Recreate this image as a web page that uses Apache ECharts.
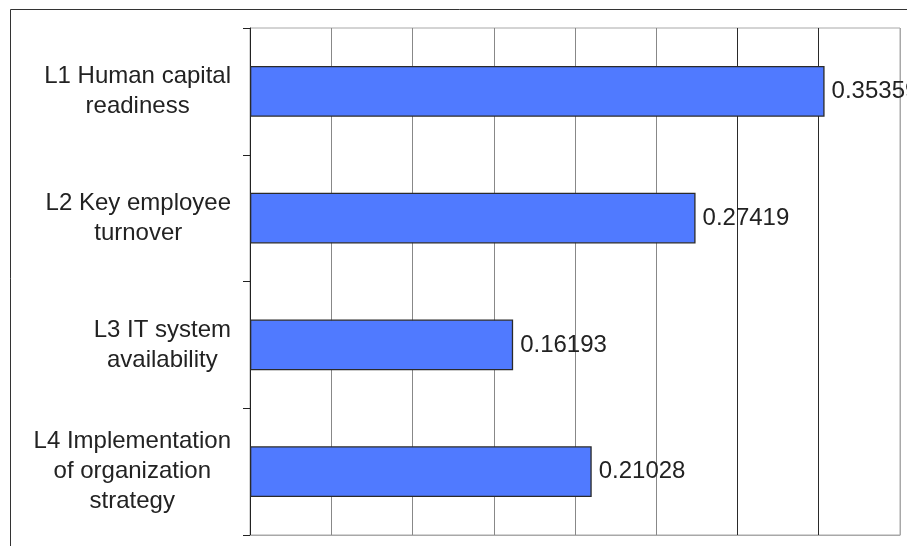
<!DOCTYPE html>
<html>
<head>
<meta charset="utf-8">
<script src="https://cdn.jsdelivr.net/npm/echarts@6/dist/echarts.min.js"></script>
<style>
html,body{margin:0;padding:0;background:#fff;}
#chart{width:907px;height:546px;}
</style>
</head>
<body>
<div id="chart"></div>
<script>
const categories = [
  'L1 Human capital\nreadiness',
  'L2 Key employee\nturnover',
  'L3 IT system\navailability',
  'L4 Implementation\nof organization\nstrategy'
];
const values = [0.35359, 0.27419, 0.16193, 0.21028];
const axisMin = 0;
const axisMax = 0.4;
const axisInterval = 0.05;

const FONT = '"Liberation Sans", Arial, sans-serif';
const chart = echarts.init(document.getElementById('chart'));
chart.setOption({
  animation: false,
  backgroundColor: '#ffffff',
  graphic: [{
    type: 'rect',
    shape: { x: 10.5, y: 9.5, width: 1200, height: 1200 },
    style: { fill: 'none', stroke: '#333', lineWidth: 1 },
    z: -10
  }],
  grid: {
    left: 250, right: 7, top: 28, bottom: 11,
    show: true, borderColor: '#a8a8a8', borderWidth: 1,
    containLabel: false
  },
  xAxis: {
    type: 'value',
    min: axisMin, max: axisMax, interval: axisInterval,
    axisLine: { show: true, lineStyle: { color: '#a8a8a8' } },
    axisTick: { show: false },
    axisLabel: { show: false },
    splitLine: {
      show: true,
      lineStyle: {
        color: ['#888','#888','#888','#888','#888','#888','#2a2a2a','#2a2a2a','#a8a8a8'],
        width: 1
      }
    }
  },
  yAxis: {
    type: 'category',
    data: categories,
    inverse: true,
    axisLine: { show: true, lineStyle: { color: '#222', width: 1 } },
    axisTick: { show: true, length: 7, alignWithLabel: false, lineStyle: { color: '#222' } },
    splitLine: { show: false },
    axisLabel: {
      margin: 19,
      formatter: function (v) {
        return v.split('\n').map(function (s) { return '{c|' + s + '}'; }).join('\n');
      },
      rich: {
        c: { align: 'center', fontSize: 24, lineHeight: 30, fontFamily: FONT, color: '#222' }
      }
    }
  },
  series: [{
    type: 'bar',
    data: values,
    barWidth: '40%',
    itemStyle: { color: '#507aff', borderColor: '#2a2a2a', borderWidth: 1.3 },
    label: {
      show: true, position: 'right', distance: 7,
      fontSize: 24, fontFamily: FONT, color: '#222'
    }
  }]
});
</script>
</body>
</html>
